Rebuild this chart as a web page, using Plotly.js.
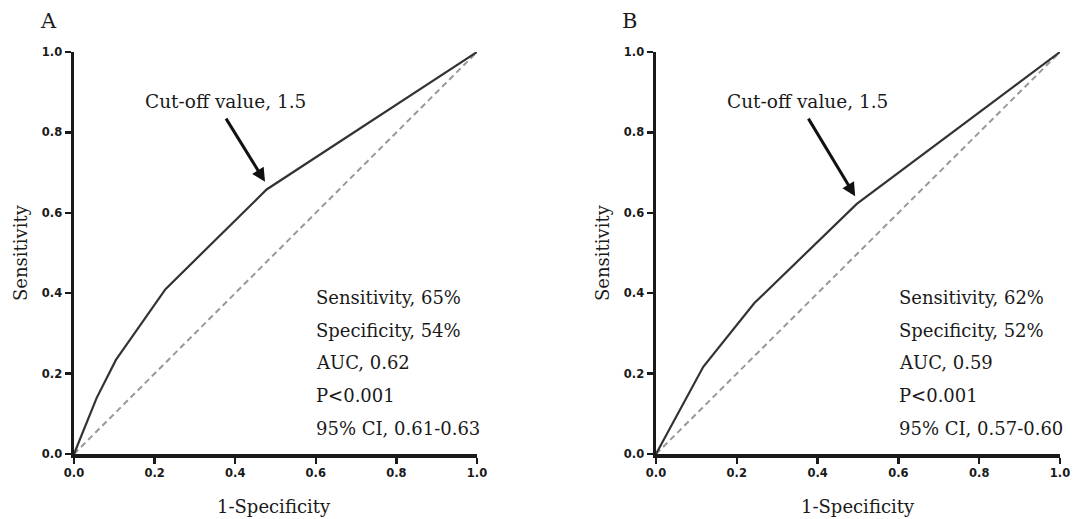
<!DOCTYPE html>
<html>
<head>
<meta charset="utf-8">
<script src="https://cdn.plot.ly/plotly-3.0.1.min.js"></script>
<style>html,body{margin:0;padding:0;background:#fff;}#chart{width:1074px;height:519px;}</style>
</head>
<body>
<div id="chart"></div>
<script>
// ROC curve A
const rocA_x = [0, 0.056, 0.104, 0.227, 0.478, 1.0];
const rocA_y = [0, 0.139, 0.234, 0.410, 0.658, 1.0];
// ROC curve B
const rocB_x = [0, 0.117, 0.243, 0.497, 1.0];
const rocB_y = [0, 0.217, 0.375, 0.622, 1.0];
// Reference diagonal
const diag_x = [0, 1];
const diag_y = [0, 1];

const statsA = ["Sensitivity, 65%", "Specificity, 54%", "AUC, 0.62", "P<0.001", "95% CI, 0.61-0.63"];
const statsB = ["Sensitivity, 62%", "Specificity, 52%", "AUC, 0.59", "P<0.001", "95% CI, 0.57-0.60"];
const cutoffLabel = "Cut-off value, 1.5";
const cutoffA = [0.478, 0.658];
const cutoffB = [0.497, 0.622];
const panelLabels = ["A", "B"];
const xTitle = "1-Specificity";
const yTitle = "Sensitivity";
const tickVals = [0, 0.2, 0.4, 0.6, 0.8, 1.0];

const W = 1074, H = 519;
const serif = "DejaVu Serif";

const rocLine = {color: "#333333", width: 2.2};
const diagLine = {color: "#999999", width: 2, dash: "6px,4px"};

const traces = [
  {x: diag_x, y: diag_y, xaxis: "x", yaxis: "y", mode: "lines", line: diagLine, hoverinfo: "skip", cliponaxis: false},
  {x: rocA_x, y: rocA_y, xaxis: "x", yaxis: "y", mode: "lines", line: rocLine, cliponaxis: false},
  {x: diag_x, y: diag_y, xaxis: "x2", yaxis: "y2", mode: "lines", line: diagLine, hoverinfo: "skip", cliponaxis: false},
  {x: rocB_x, y: rocB_y, xaxis: "x2", yaxis: "y2", mode: "lines", line: rocLine, cliponaxis: false}
];

function axis(domain, anchor) {
  return {
    domain: domain, anchor: anchor, range: [0, 1], fixedrange: true,
    showgrid: false, zeroline: false,
    showline: true, linewidth: 3.5, linecolor: "#1a1a1a",
    ticks: "outside", ticklen: 6, tickwidth: 2.5, tickcolor: "#1a1a1a",
    tickvals: tickVals, tickformat: ".1f",
    tickfont: {family: "DejaVu Sans", size: 11.5, color: "#1a1a1a", weight: "bold"}
  };
}

const yDom = [65 / H, 467 / H];
const layout = {
  width: W, height: H,
  margin: {l: 0, r: 0, t: 0, b: 0},
  paper_bgcolor: "#ffffff", plot_bgcolor: "#ffffff",
  showlegend: false,
  xaxis: axis([74 / W, 477 / W], "y"),
  yaxis: axis(yDom, "x"),
  xaxis2: axis([656 / W, 1060 / W], "y2"),
  yaxis2: axis(yDom, "x2"),
  annotations: []
};

const ann = layout.annotations;
const textFont = {family: serif, size: 18, color: "#1a1a1a"};
const cutFont = {family: serif, size: 18.5, color: "#1a1a1a"};

[["x", "y", statsA, cutoffA], ["x2", "y2", statsB, cutoffB]].forEach(function (p) {
  const xr = p[0], yr = p[1], stats = p[2], cut = p[3];
  // stats lines
  stats.forEach(function (s, i) {
    ann.push({xref: xr, yref: yr, x: 0.596, y: 0.389 - i * 0.0813, text: s,
      showarrow: false, xanchor: "left", yanchor: "middle", font: textFont});
  });
  // cutoff arrow
  ann.push({xref: xr, yref: yr, x: cut[0] - 0.004, y: cut[1] + 0.019,
    axref: xr, ayref: yr, ax: 0.375, ay: 0.838,
    text: "", showarrow: true, arrowhead: 2, arrowsize: 0.9, arrowwidth: 3, arrowcolor: "#111111"});
  // cutoff label
  ann.push({xref: xr, yref: yr, x: 0.376, y: 0.878, text: cutoffLabel,
    showarrow: false, xanchor: "center", yanchor: "middle", font: cutFont});
});

// axis titles and panel labels
const axTitleFont = {family: serif, size: 18, color: "#1a1a1a"};
[[273.5, 20, 48], [858, 602, 629.5]].forEach(function (pos, i) {
  ann.push({xref: "paper", yref: "paper", x: pos[0] / W, y: 1 - 506 / H, text: xTitle,
    showarrow: false, xanchor: "center", yanchor: "middle", font: axTitleFont});
  ann.push({xref: "paper", yref: "paper", x: pos[1] / W, y: 1 - 253 / H, text: yTitle,
    textangle: -90, showarrow: false, xanchor: "center", yanchor: "middle", font: axTitleFont});
  ann.push({xref: "paper", yref: "paper", x: pos[2] / W, y: 1 - 21 / H, text: panelLabels[i],
    showarrow: false, xanchor: "center", yanchor: "middle",
    font: {family: serif, size: 21, color: "#1a1a1a"}});
});

Plotly.newPlot("chart", traces, layout, {displayModeBar: false, staticPlot: true});
</script>
</body>
</html>
